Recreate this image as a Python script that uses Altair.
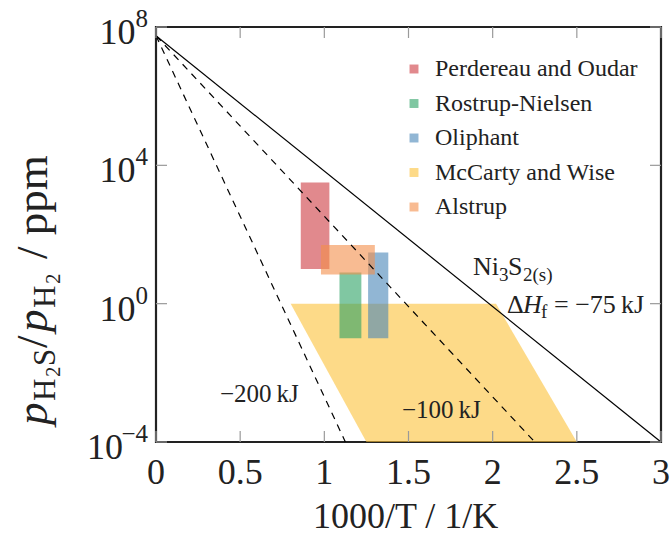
import altair as alt
import pandas as pd

SERIF = "Liberation Serif, Times New Roman, Times, serif"
INK = "#222222"

# Reported H2S/H2 ranges (ppm) vs 1000/T
studies = ["Perdereau and Oudar", "Rostrup-Nielsen", "Oliphant", "McCarty and Wise", "Alstrup"]
study_colors = ["#cd3a41", "#2ba264", "#4885b7", "#fcc139", "#f38e49"]

box_study = ["Perdereau and Oudar", "Rostrup-Nielsen", "Oliphant", "Alstrup"]
box_x0 = [0.86, 1.09, 1.26, 0.98]
box_x1 = [1.03, 1.22, 1.38, 1.30]
box_lo = [10, 0.1, 0.1, 7]
box_hi = [3200, 8, 30, 50]

# McCarty and Wise band: left/right edges at two ratio levels
band_y = [1.0, 1e-4]
band_left = [0.80, 1.25]
band_right = [2.02, 2.50]

# Ni3S2 equilibrium lines for three formation enthalpies (kJ)
line_dh = [-75, -100, -200]
line_y0 = 5.6e7
line_x_end = [3.0, 2.25, 1.125]
line_y_end = 1e-4

x_ticks = [0, 0.5, 1, 1.5, 2, 2.5, 3]
y_ticks = [1e-4, 1, 1e4, 1e8]
y_exps = ["\u22124", "0", "4", "8"]

W, H = 505, 415
xs = alt.Scale(domain=[0, 3], nice=False, zero=False)
ys = alt.Scale(type="log", domain=[1e-4, 1e8], nice=False)
cs = alt.Scale(domain=studies, range=study_colors)

boxes = pd.DataFrame({"study": box_study, "x0": box_x0, "x1": box_x1, "lo": box_lo, "hi": box_hi})
band = pd.DataFrame({"study": "McCarty and Wise", "y": band_y, "xl": band_left, "xr": band_right})
rows = []
for dh, xe in zip(line_dh, line_x_end):
    rows.append({"dh": dh, "x": 0.0, "y": line_y0})
    rows.append({"dh": dh, "x": xe, "y": line_y_end})
lines = pd.DataFrame(rows)

legend = alt.Legend(
    title=None, orient="none", legendX=246, legendY=30, symbolType="square", symbolSize=80,
    symbolOpacity=0.6, symbolStrokeWidth=0, labelFont=SERIF, labelFontSize=24, labelColor=INK,
    labelOffset=9, rowPadding=10.5, padding=0, labelLimit=400,
)

band_layer = alt.Chart(band).mark_area(orient="horizontal", opacity=0.6).encode(
    y=alt.Y("y:Q", scale=ys, axis=None),
    x=alt.X("xl:Q", scale=xs, axis=None),
    x2="xr:Q",
    color=alt.Color("study:N", scale=cs, legend=legend),
)

box_layer = alt.Chart(boxes).mark_rect(opacity=0.6).encode(
    x=alt.X("x0:Q", scale=xs, axis=None),
    x2="x1:Q",
    y=alt.Y("lo:Q", scale=ys, axis=None),
    y2="hi:Q",
    color=alt.Color("study:N", scale=cs, legend=legend),
    order=alt.Order("o:Q"),
).transform_calculate(o="indexof(['Perdereau and Oudar','Rostrup-Nielsen','Oliphant','Alstrup'], datum.study)")

base_line = alt.Chart(lines).encode(
    x=alt.X("x:Q", scale=xs, axis=None),
    y=alt.Y("y:Q", scale=ys, axis=None),
    detail="dh:N",
)
solid = base_line.mark_line(color="black", strokeWidth=1.2).transform_filter("datum.dh == -75")
dashed = base_line.mark_line(color="black", strokeWidth=1.2, strokeDash=[7, 6]).transform_filter("datum.dh != -75")

xt = pd.DataFrame({"t": x_ticks})
yt = pd.DataFrame({"v": y_ticks, "e": y_exps})
tick_style = dict(color="#9a9a9a", strokeWidth=1.2)
xtick_bot = alt.Chart(xt).mark_rule(**tick_style).encode(
    x=alt.X("t:Q", scale=xs, axis=None), y=alt.value(H), y2=alt.value(H - 11))
xtick_top = alt.Chart(xt).mark_rule(**tick_style).encode(
    x=alt.X("t:Q", scale=xs, axis=None), y=alt.value(0), y2=alt.value(11))
ytick_l = alt.Chart(yt).mark_rule(**tick_style).encode(
    y=alt.Y("v:Q", scale=ys, axis=None), x=alt.value(0), x2=alt.value(11))
ytick_r = alt.Chart(yt).mark_rule(**tick_style).encode(
    y=alt.Y("v:Q", scale=ys, axis=None), x=alt.value(W), x2=alt.value(W - 11))

xlab = alt.Chart(xt).mark_text(font=SERIF, fontSize=36, color=INK, baseline="alphabetic", align="center").encode(
    x=alt.X("t:Q", scale=xs, axis=None), y=alt.value(H + 42), text="t:Q")

ylab_base = alt.Chart(yt).transform_calculate(px="-8 - 12.5*length(datum.e)").mark_text(
    text="10", font=SERIF, fontSize=36, color=INK, baseline="alphabetic", align="right", dy=17).encode(
    y=alt.Y("v:Q", scale=ys, axis=None), x=alt.X("px:Q", scale=None))
ylab_exp = alt.Chart(yt).mark_text(
    font=SERIF, fontSize=25, color=INK, baseline="alphabetic", align="right", dy=0).encode(
    y=alt.Y("v:Q", scale=ys, axis=None), x=alt.value(-8), text="e:N")


def txt(s, x, y, size, italic=False, angle=None):
    kw = dict(text=s, font=SERIF, fontSize=size, color=INK, align="left", baseline="alphabetic")
    if italic:
        kw["fontStyle"] = "italic"
    if angle is not None:
        kw["angle"] = angle
    return alt.Chart(alt.Data(values=[{}])).mark_text(**kw).encode(x=alt.value(x), y=alt.value(y))


OX, OY = 156, 27  # plot origin in page pixels
notes = [
    txt("Ni", 473 - OX, 275 - OY, 26),
    txt("3", 499 - OX, 281 - OY, 19),
    txt("S", 508 - OX, 275 - OY, 26),
    txt("2(s)", 523 - OX, 281 - OY, 19),
    txt("\u0394", 507 - OX, 313 - OY, 26),
    txt("H", 523 - OX, 313 - OY, 26, italic=True),
    txt("f", 541 - OX, 318 - OY, 19),
    txt("= \u221275\u2009kJ", 554 - OX, 313 - OY, 26),
    txt("\u2212200\u2009kJ", 220 - OX, 402 - OY, 25),
    txt("\u2212100\u2009kJ", 402 - OX, 418 - OY, 25),
    txt("1000/T / 1/K", 313 - OX, 528 - OY, 36),
]

# rotated axis title, pieces stacked upward from the bottom
BX = 47 - OX
title = [
    txt("p", BX, 425 - OY, 45, italic=True, angle=270),
    txt("H", BX + 8, 401 - OY, 31, angle=270),
    txt("2", BX + 13, 377 - OY, 21, angle=270),
    txt("S", BX + 8, 366 - OY, 31, angle=270),
    txt("/", BX, 348 - OY, 45, angle=270),
    txt("p", BX, 332 - OY, 45, italic=True, angle=270),
    txt("H", BX + 8, 308 - OY, 31, angle=270),
    txt("2", BX + 13, 284 - OY, 21, angle=270),
    txt("/ ppm", BX, 259 - OY, 45, angle=270),
]

chart = alt.layer(
    band_layer, box_layer, solid, dashed,
    xtick_bot, xtick_top, ytick_l, ytick_r,
    xlab, ylab_base, ylab_exp,
    *notes, *title,
).properties(
    width=W, height=H,
    autosize=alt.AutoSizeParams(type="none"),
    padding={"left": OX, "top": OY, "right": 670 - OX - W, "bottom": 538 - OY - H},
).configure_view(stroke=INK, strokeWidth=2.2).configure_legend(labelFont=SERIF, labelFontSize=24)

chart.save("out.html", embed_options={"renderer": "svg", "actions": False})
